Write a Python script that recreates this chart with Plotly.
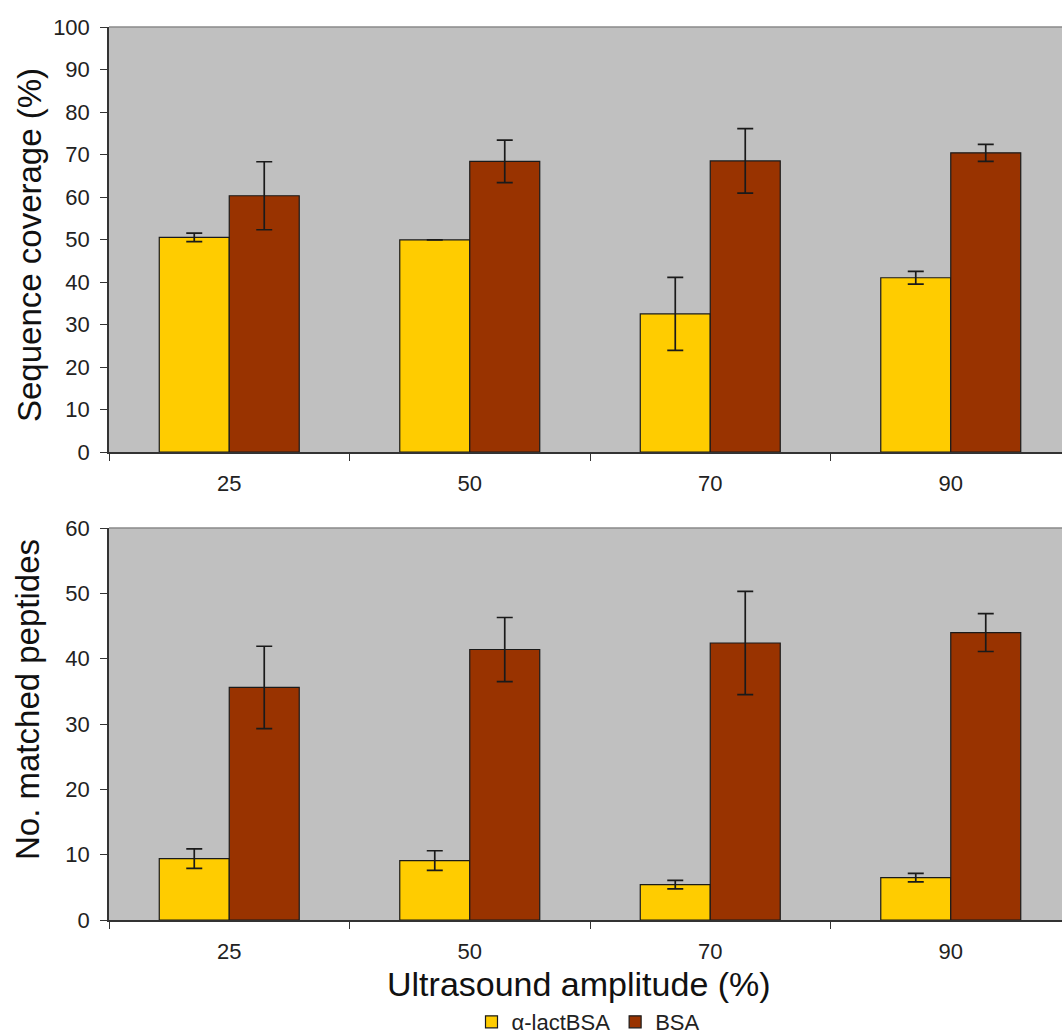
import plotly.graph_objects as go

categories = ["25", "50", "70", "90"]

alpha_coverage = [50.5, 49.9, 32.5, 41.0]
alpha_coverage_err = [1.0, 0.0, 8.6, 1.5]
bsa_coverage = [60.3, 68.4, 68.5, 70.4]
bsa_coverage_err = [8.0, 5.0, 7.6, 2.0]

alpha_peptides = [9.4, 9.1, 5.4, 6.5]
alpha_peptides_err = [1.5, 1.5, 0.65, 0.65]
bsa_peptides = [35.6, 41.4, 42.4, 44.0]
bsa_peptides_err = [6.3, 4.9, 7.9, 2.9]

series_names = ["α-lactBSA", "BSA"]
colors = ["#FFCC00", "#993300"]

W, H = 1062, 1034
FONT = "Arial, Liberation Sans, sans-serif"

def py(px):
    return 1 - px / H

fig = go.Figure()

def add_bars(xa, ya, vals, errs, idx, show):
    fig.add_trace(go.Bar(
        x=categories, y=vals, name=series_names[idx],
        marker=dict(color=colors[idx], line=dict(color="#1a1a1a", width=1.2)),
        error_y=dict(type="data", array=errs, visible=True,
                     color="#1a1a1a", thickness=1.7, width=8),
        xaxis=xa, yaxis=ya, showlegend=show, legendgroup=series_names[idx],
    ))

add_bars("x", "y", alpha_coverage, alpha_coverage_err, 0, True)
add_bars("x", "y", bsa_coverage, bsa_coverage_err, 1, True)
add_bars("x2", "y2", alpha_peptides, alpha_peptides_err, 0, False)
add_bars("x2", "y2", bsa_peptides, bsa_peptides_err, 1, False)

xdom = [109 / W, 1.0]
cat_px = 240.5
xr = [-0.5, -0.5 + (W - 109) / cat_px]

common_x = dict(
    type="category", range=xr, domain=xdom, showgrid=False, zeroline=False,
    showline=True, linecolor="#333333", linewidth=1.5, automargin=False,
    ticks="outside", tickson="boundaries", ticklen=7, tickcolor="#333333",
    tickfont=dict(family=FONT, size=22, color="#222222"),
    ticklabelstandoff=11,
)
common_y = dict(
    showgrid=False, zeroline=False, showline=True, linecolor="#333333",
    linewidth=1.5, ticks="outside", ticklen=7, tickcolor="#333333", automargin=False,
    tickfont=dict(family=FONT, size=22, color="#222222"),
    ticklabelstandoff=6,
)

fig.update_layout(
    width=W, height=H,
    margin=dict(l=0, r=0, t=0, b=0, autoexpand=False),
    paper_bgcolor="white", plot_bgcolor="#C0C0C0",
    barmode="group", bargap=0.418, bargroupgap=0,
    xaxis=dict(common_x, anchor="y"),
    yaxis=dict(common_y, domain=[py(452), py(27)], range=[0, 100], dtick=10, anchor="x"),
    xaxis2=dict(common_x, anchor="y2"),
    yaxis2=dict(common_y, domain=[py(920), py(528)], range=[0, 60], dtick=10, anchor="x2"),
    legend=dict(orientation="h", x=588 / W, xanchor="center", y=py(1022), yanchor="middle",
                font=dict(family=FONT, size=22, color="#222222"),
                bgcolor="rgba(0,0,0,0)", itemwidth=30, tracegroupgap=0),
    showlegend=True,
)

# top frame border of each plot area
for xr_, yr_ in (("x domain", "y domain"), ("x2 domain", "y2 domain")):
    fig.add_shape(type="line", xref=xr_, yref=yr_, x0=0, x1=1, y0=1, y1=1,
                  line=dict(color="#8a8a8a", width=1.5))

fig.add_annotation(text="Sequence coverage (%)", textangle=-90, showarrow=False,
                   xref="paper", yref="paper", x=29 / W, y=py(245),
                   xanchor="center", yanchor="middle",
                   font=dict(family=FONT, size=33, color="#111111"))
fig.add_annotation(text="No. matched peptides", textangle=-90, showarrow=False,
                   xref="paper", yref="paper", x=27 / W, y=py(700),
                   xanchor="center", yanchor="middle",
                   font=dict(family=FONT, size=33, color="#111111"))
fig.add_annotation(text="Ultrasound amplitude (%)", showarrow=False,
                   xref="paper", yref="paper", x=579 / W, y=py(984),
                   xanchor="center", yanchor="middle",
                   font=dict(family=FONT, size=34, color="#111111"))

fig.write_html("out.html")
